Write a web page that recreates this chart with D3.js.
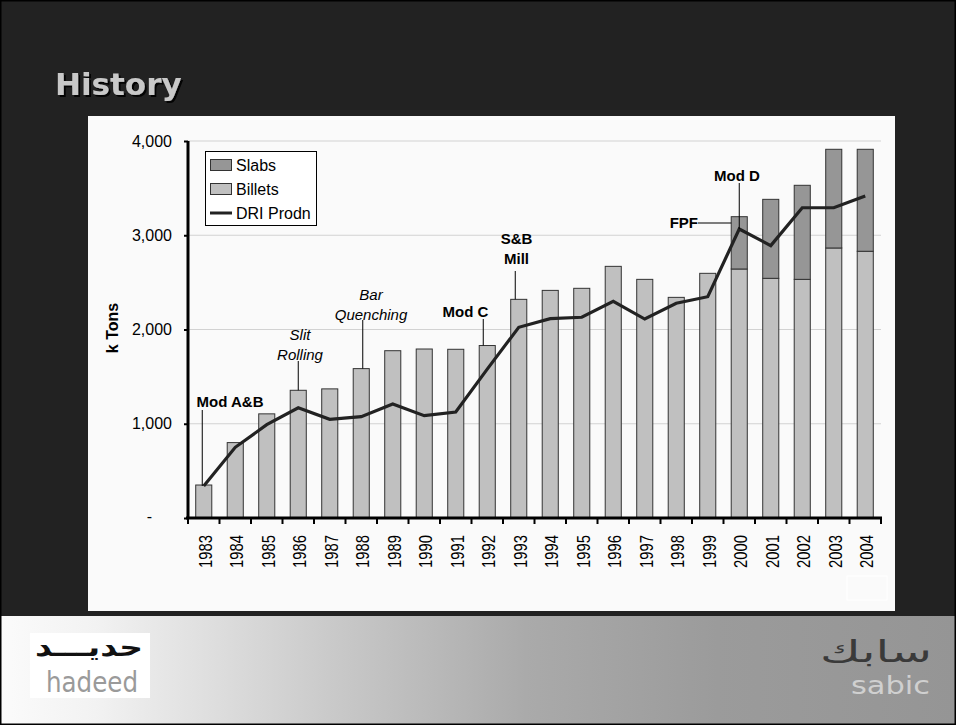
<!DOCTYPE html>
<html>
<head>
<meta charset="utf-8">
<script src="https://cdn.jsdelivr.net/npm/d3@7"></script>
<style>
  body { margin: 0; background: #222; }
  svg { display: block; }
  text { font-family: "Liberation Sans", Arial, sans-serif; }
</style>
</head>
<body>
<div id="chart"></div>
<script>
// data
var years = ["1983","1984","1985","1986","1987","1988","1989","1990","1991","1992","1993",
             "1994","1995","1996","1997","1998","1999","2000","2001","2002","2003","2004"];
var billets = [350, 800, 1105, 1355, 1370, 1585, 1775, 1793, 1790, 1830, 2320,
               2415, 2437, 2670, 2532, 2341, 2596, 2642, 2543, 2532, 2865, 2830];
var slabs = [0, 0, 0, 0, 0, 0, 0, 0, 0, 0, 0,
             0, 0, 0, 0, 0, 0, 555, 838, 998, 1047, 1082];
var dri = [340, 750, 990, 1170, 1047, 1075, 1210, 1086, 1125, 1580, 2023,
           2115, 2130, 2299, 2111, 2278, 2348, 3066, 2890, 3292, 3292, 3416];
var yTicks = [0, 1000, 2000, 3000, 4000];
var legendItems = ["Slabs", "Billets", "DRI Prodn"];

var W = 956, H = 725;
var svg = d3.select("#chart").append("svg").attr("width", W).attr("height", H);

// background / frame
svg.append("rect").attr("width", W).attr("height", H).attr("fill", "#222");
var defs = svg.append("defs");
var grad = defs.append("linearGradient").attr("id", "foot").attr("x1", 0).attr("x2", 1);
[[0, "#fbfbfb"], [0.1, "#f2f2f2"], [0.35, "#c9c9c9"], [0.55, "#aaaaaa"], [0.75, "#9b9b9b"], [1, "#959595"]]
  .forEach(function(s){ grad.append("stop").attr("offset", s[0]).attr("stop-color", s[1]); });
defs.append("filter").attr("id", "shadow").attr("x", "-10%").attr("y", "-20%").attr("width", "130%").attr("height", "150%")
  .append("feDropShadow").attr("dx", 2).attr("dy", 2).attr("stdDeviation", 0.6)
  .attr("flood-color", "#000").attr("flood-opacity", 0.9);
svg.append("rect").attr("x", 0).attr("y", 616).attr("width", W).attr("height", H - 616).attr("fill", "url(#foot)");
svg.append("rect").attr("x", 0.5).attr("y", 0.5).attr("width", W - 1).attr("height", H - 1)
  .attr("fill", "none").attr("stroke", "#000").attr("stroke-width", 2);

// title
svg.append("text").attr("x", 55).attr("y", 95).text("History")
  .style("font-family", "'DejaVu Sans', Verdana, sans-serif").style("font-weight", "bold")
  .attr("font-size", 31).attr("fill", "#c8c8c8").attr("filter", "url(#shadow)");

// chart panel
svg.append("rect").attr("x", 88).attr("y", 116).attr("width", 807).attr("height", 495).attr("fill", "#fafafa");
svg.append("rect").attr("x", 847).attr("y", 576).attr("width", 40).attr("height", 24)
  .attr("fill", "none").attr("stroke", "#fff");

var x = d3.scaleBand().domain(years).range([188, 881]).paddingInner(0.49).paddingOuter(0.245);
var y = d3.scaleLinear().domain([0, 4000]).range([518, 141]);
var cx = function(yr){ return x(yr) + x.bandwidth() / 2; };

// gridlines
svg.append("g").selectAll("line").data(yTicks.slice(1)).enter().append("line")
  .attr("x1", 188).attr("x2", 881)
  .attr("y1", function(d){ return y(d); }).attr("y2", function(d){ return y(d); })
  .attr("stroke", "#d2d2d2").attr("stroke-width", 1);

// bars
var bars = svg.append("g");
bars.selectAll(".billet").data(years).enter().append("rect")
  .attr("x", function(d){ return x(d); })
  .attr("width", x.bandwidth())
  .attr("y", function(d, i){ return y(billets[i]); })
  .attr("height", function(d, i){ return y(0) - y(billets[i]); })
  .attr("fill", "#c0c0c0").attr("stroke", "#333").attr("stroke-width", 1);
bars.selectAll(".slab").data(years.filter(function(d, i){ return slabs[i] > 0; })).enter().append("rect")
  .attr("x", function(d){ return x(d); })
  .attr("width", x.bandwidth())
  .attr("y", function(d){ var i = years.indexOf(d); return y(billets[i] + slabs[i]); })
  .attr("height", function(d){ var i = years.indexOf(d); return y(billets[i]) - y(billets[i] + slabs[i]); })
  .attr("fill", "#969696").attr("stroke", "#333").attr("stroke-width", 1);

// DRI line
var line = d3.line().x(function(d, i){ return cx(years[i]); }).y(function(d){ return y(d); });
svg.append("path").datum(dri).attr("d", line)
  .attr("fill", "none").attr("stroke", "#222").attr("stroke-width", 3.2).attr("stroke-linejoin", "miter");

// axes
var yAxis = svg.append("g").attr("transform", "translate(188,0)")
  .call(d3.axisLeft(y).tickValues(yTicks).tickSize(4).tickPadding(12)
    .tickFormat(function(d){ return d === 0 ? "-" : d3.format(",")(d); }));
yAxis.select(".domain").attr("stroke", "#000").attr("stroke-width", 3).attr("d", "M0,141V518");
yAxis.selectAll(".tick line").attr("stroke", "#000").attr("stroke-width", 2);
yAxis.selectAll("text").attr("font-size", 16).attr("fill", "#000").style("font-family", "'Liberation Sans', Arial, sans-serif");
yAxis.selectAll(".tick").filter(function(d){ return d === 0; }).select("text").attr("dx", -20).attr("dy", "0.2em");

var xAxis = svg.append("g").attr("transform", "translate(0,518)");
xAxis.append("line").attr("x1", 186).attr("x2", 882).attr("stroke", "#000").attr("stroke-width", 3);
xAxis.selectAll(".tk").data(d3.range(years.length + 1)).enter().append("line")
  .attr("x1", function(i){ return 188 + i * x.step(); }).attr("x2", function(i){ return 188 + i * x.step(); })
  .attr("y1", 0).attr("y2", 6).attr("stroke", "#000").attr("stroke-width", 2);
xAxis.selectAll(".yl").data(years).enter().append("text")
  .attr("transform", function(d){ return "translate(" + (cx(d) + 1) + ",17) rotate(-90)"; })
  .attr("text-anchor", "end").attr("dy", "0.36em")
  .attr("font-size", 19).attr("textLength", 33).attr("lengthAdjust", "spacingAndGlyphs")
  .attr("fill", "#000").text(function(d){ return d; });

// y label
svg.append("text").attr("transform", "translate(118,328) rotate(-90)")
  .attr("text-anchor", "middle").attr("font-weight", "bold").attr("font-size", 16).text("k Tons");

// legend
var lg = svg.append("g");
lg.append("rect").attr("x", 205.5).attr("y", 151.5).attr("width", 111).attr("height", 74)
  .attr("fill", "#fff").attr("stroke", "#000").attr("stroke-width", 1);
lg.append("rect").attr("x", 210.5).attr("y", 159.5).attr("width", 21).attr("height", 11)
  .attr("fill", "#969696").attr("stroke", "#333");
lg.append("rect").attr("x", 210.5).attr("y", 183.5).attr("width", 21).attr("height", 11)
  .attr("fill", "#c0c0c0").attr("stroke", "#333");
lg.append("line").attr("x1", 210).attr("x2", 232).attr("y1", 213).attr("y2", 213)
  .attr("stroke", "#222").attr("stroke-width", 3);
lg.selectAll(".lt").data(legendItems).enter().append("text")
  .attr("x", 236).attr("y", function(d, i){ return [171, 195, 219][i]; })
  .attr("font-size", 16).text(function(d){ return d; });

// annotations
var ann = svg.append("g").attr("fill", "#000").attr("font-size", 15);
function label(txt, xx, yy, opts){
  var t = ann.append("text").attr("x", xx).attr("y", yy).attr("text-anchor", opts.anchor || "middle").text(txt);
  if (opts.bold) t.attr("font-weight", "bold");
  if (opts.italic) t.attr("font-style", "italic");
}
function leader(x1, y1, x2, y2){
  ann.append("line").attr("x1", x1).attr("y1", y1).attr("x2", x2).attr("y2", y2)
    .attr("stroke", "#000").attr("stroke-width", 1);
}
var iOf = function(yr){ return years.indexOf(yr); };

label("Mod A&B", 230, 407, {bold: true});
leader(cx("1983") - 1.5, 410, cx("1983") - 1.5, y(dri[iOf("1983")]));

label("Slit", 300, 340, {italic: true});
label("Rolling", 300, 359.5, {italic: true});
leader(cx("1986"), 361, cx("1986"), y(billets[iOf("1986")]));

label("Bar", 371, 300, {italic: true});
label("Quenching", 371, 319.5, {italic: true});
leader(cx("1988") + 1.5, 320, cx("1988") + 1.5, y(billets[iOf("1988")]));

label("Mod C", 465.5, 316.5, {bold: true});
leader(cx("1992") - 4, 319, cx("1992") - 4, y(billets[iOf("1992")]));

label("S&B", 516.5, 244, {bold: true});
label("Mill", 516.5, 263.5, {bold: true});
leader(cx("1993") - 3.5, 271, cx("1993") - 3.5, y(billets[iOf("1993")]));

label("Mod D", 737, 180.5, {bold: true});
leader(cx("2000"), 183, cx("2000"), y(dri[iOf("2000")]));

label("FPF", 698, 228, {bold: true, anchor: "end"});
leader(698, 223, x("2000"), 223);

// footer logos
svg.append("rect").attr("x", 30).attr("y", 633).attr("width", 120).attr("height", 65).attr("fill", "#fff");
function logoText(txt, x0, y0, w, size, fill, weight){
  var t = svg.append("text").attr("x", 0).attr("y", 0).attr("font-size", size)
    .style("font-family", "'DejaVu Sans', sans-serif").style("font-weight", weight || "normal")
    .attr("fill", fill).text(txt);
  var len = t.node().getComputedTextLength();
  t.attr("transform", "translate(" + x0 + "," + y0 + ") scale(" + (w / len) + ",1)");
}
logoText("حديـــد", 35, 656, 108, 26, "#111", "bold");
logoText("hadeed", 46, 692, 92, 29, "#9a9a9a", "normal");
logoText("سابك", 820, 662, 112, 30, "#3a3a3a", "normal");
logoText("sabic", 851, 694, 79, 24, "#d0d0d0", "normal");
</script>
</body>
</html>
